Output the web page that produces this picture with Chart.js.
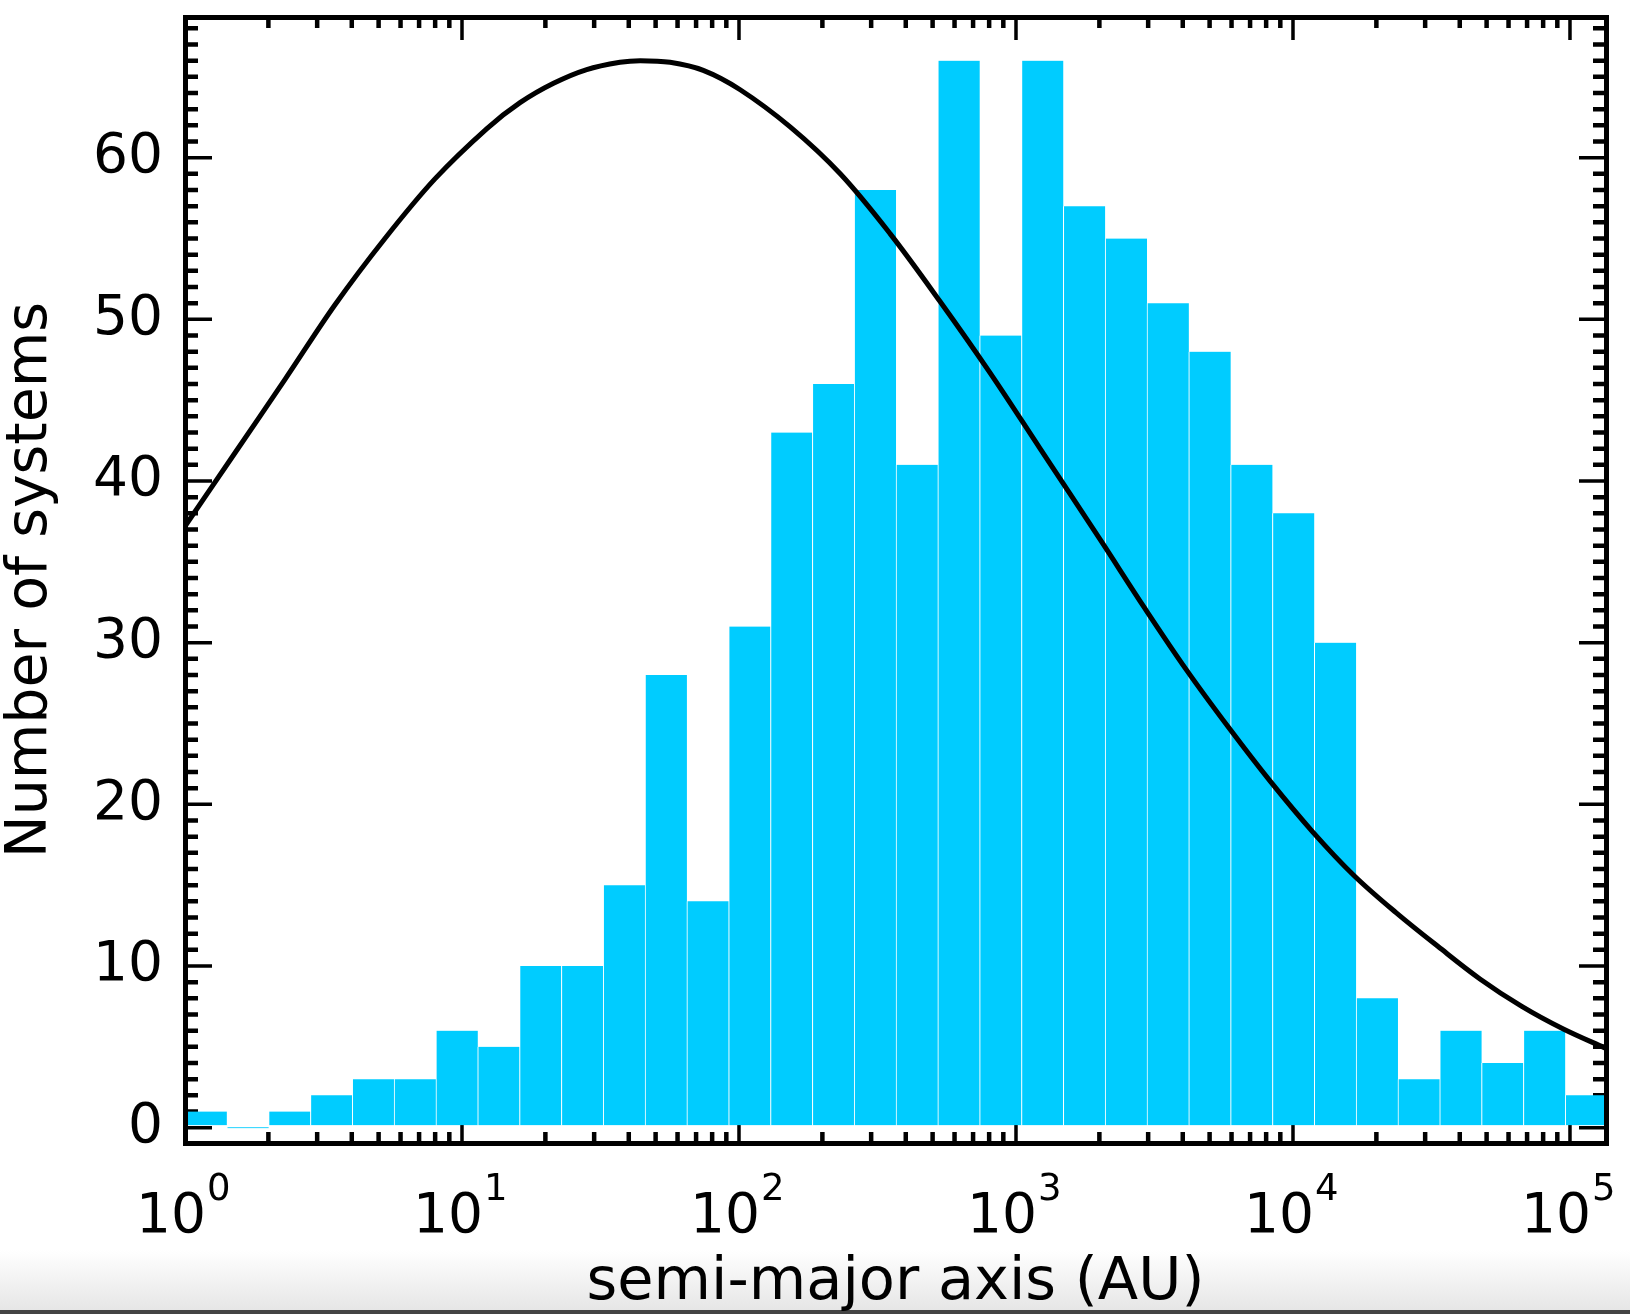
<!DOCTYPE html>
<html>
<head>
<meta charset="utf-8">
<title>Semi-major axis distribution</title>
<script src="https://cdn.jsdelivr.net/npm/chart.js@4.4.1/dist/chart.umd.min.js"></script>
<style>
  html, body { margin: 0; padding: 0; }
  body {
    width: 1630px;
    height: 1314px;
    overflow: hidden;
    background: linear-gradient(to bottom, #fff 0, #fff 1250px, #e6e6e6 1310px, #444 1310px, #444 1314px);
  }
  #wrap { position: relative; width: 1630px; height: 1314px; }
</style>
</head>
<body>
<div id="wrap"><canvas id="axisChart"></canvas></div>
<script>
// histogram: number of systems per bin, bins are 0.151 dex wide starting at 1 AU
const binWidthDex = 0.151;
const counts = [1, 0, 1, 2, 3, 3, 6, 5, 10, 10, 15, 28, 14, 31, 43, 46, 58,
  41, 66, 49, 66, 57, 55, 51, 48, 41, 38, 30, 8, 3, 6, 4, 6, 2];

// fitted curve (AU, number)
const curveA = [1, 1.51, 2.3, 3.48, 5.27, 8, 12.3, 16.2, 21.4, 28.2, 37.2, 44,
  56.4, 74.3, 101, 153, 232, 351, 532, 805, 1222, 2009, 2924, 4130, 5888, 8299,
  11776, 16596, 23550, 33420, 47315, 66988, 94624, 134900];
const curveN = [37.2, 41.7, 46.3, 50.9, 55.0, 58.7, 61.8, 63.4, 64.6, 65.45, 65.9, 66.0,
  65.9, 65.4, 64.2, 61.9, 59.0, 55.3, 51.1, 46.7, 42.0, 36.4, 32.1, 28.3, 24.7, 21.4,
  18.3, 15.6, 13.3, 11.2, 9.2, 7.5, 6.1, 4.9];

// axes
const xMin = 1;
const xMax = 134900;
const yMin = -0.95;
const yMax = 68.7;
const xMajorTicks = [1, 10, 100, 1000, 10000, 100000];
const xTickBase = '10';
const xTickExponents = ['0', '1', '2', '3', '4', '5'];
const yMajorTicks = [0, 10, 20, 30, 40, 50, 60];

const FONT = 'DejaVu Sans';

const binCenters = counts.map((c, i) => Math.pow(10, (i + 0.5) * binWidthDex));

const xMinorTicks = [];
xMajorTicks.forEach(m => {
  for (let k = 2; k <= 9; k++) {
    if (m * k < xMax) xMinorTicks.push(m * k);
  }
});
const yMinorTicks = [];
for (let v = 1; v < yMax; v++) {
  if (v % 10 !== 0) yMinorTicks.push(v);
}

// IDL style tick marks pointing into the plot, on all four sides
const inwardTicks = {
  id: 'inwardTicks',
  beforeDatasetsDraw(chart) {
    const { ctx, chartArea: area, scales: { x, y } } = chart;
    ctx.save();
    ctx.strokeStyle = '#000';
    const vTick = (px, len, w) => {
      ctx.lineWidth = w;
      ctx.beginPath();
      ctx.moveTo(px, area.bottom);
      ctx.lineTo(px, area.bottom - len);
      ctx.moveTo(px, area.top);
      ctx.lineTo(px, area.top + len);
      ctx.stroke();
    };
    const hTick = (py, len, w) => {
      ctx.lineWidth = w;
      ctx.beginPath();
      ctx.moveTo(area.left, py);
      ctx.lineTo(area.left + len, py);
      ctx.moveTo(area.right, py);
      ctx.lineTo(area.right - len, py);
      ctx.stroke();
    };
    xMinorTicks.forEach(v => vTick(x.getPixelForValue(v), 11, 4.5));
    xMajorTicks.forEach(v => vTick(x.getPixelForValue(v), 23, 3.5));
    yMinorTicks.forEach(v => hTick(y.getPixelForValue(v), 13, 4.5));
    yMajorTicks.forEach(v => hTick(y.getPixelForValue(v), 27, 3.5));
    ctx.restore();
  },
  // exponents of the 10^n labels, raised next to the "10" tick labels
  afterDraw(chart) {
    const { ctx, chartArea: area, scales: { x } } = chart;
    ctx.save();
    ctx.fillStyle = '#000';
    ctx.font = '37px "' + FONT + '"';
    ctx.textAlign = 'left';
    ctx.textBaseline = 'alphabetic';
    xMajorTicks.forEach((v, i) => {
      ctx.fillText(xTickExponents[i], x.getPixelForValue(v) + 22, area.bottom + 57);
    });
    ctx.restore();
  }
};

const frameGrid = { drawOnChartArea: false, drawTicks: false, lineWidth: 5 };
const frameBorder = { display: true, color: '#000', width: 5, z: 1 };

new Chart(document.getElementById('axisChart'), {
  type: 'bar',
  data: {
    datasets: [{
      type: 'line',
      data: curveA.map((a, i) => ({ x: a, y: curveN[i] })),
      borderColor: '#000',
      borderWidth: 5,
      pointRadius: 0,
      tension: 0.35,
      order: 0
    }, {
      type: 'bar',
      data: binCenters.map((a, i) => ({ x: a, y: counts[i] })),
      backgroundColor: '#00ccff',
      borderColor: '#fff',
      borderWidth: { left: 1, right: 0, top: 0, bottom: 0 },
      borderSkipped: false,
      barPercentage: 1,
      categoryPercentage: 1,
      minBarLength: 1,
      order: 1
    }]
  },
  options: {
    responsive: true,
    maintainAspectRatio: false,
    animation: false,
    devicePixelRatio: 1,
    layout: { padding: 0 },
    plugins: {
      legend: { display: false },
      tooltip: { enabled: false }
    },
    scales: {
      x: {
        type: 'logarithmic',
        position: 'bottom',
        min: xMin,
        max: xMax,
        offset: false,
        grid: frameGrid,
        border: frameBorder,
        afterBuildTicks: s => { s.ticks = xMajorTicks.map(v => ({ value: v })); },
        afterFit: s => { s.height = 171; s.paddingLeft = 0; s.paddingRight = 0; },
        ticks: {
          autoSkip: false,
          maxRotation: 0,
          padding: 42,
          labelOffset: -14,
          color: '#000',
          font: { family: FONT, size: 55 },
          callback: v => (xMajorTicks.indexOf(v) < 0 ? '' : xTickBase)
        },
        title: {
          display: true,
          text: 'semi-major axis (AU)',
          color: '#000',
          font: { family: FONT, size: 59 },
          padding: { top: 0, bottom: -5 }
        }
      },
      x2: {
        type: 'logarithmic',
        position: 'top',
        min: xMin,
        max: xMax,
        offset: false,
        grid: frameGrid,
        border: frameBorder,
        ticks: { display: false },
        afterFit: s => { s.height = 17; s.paddingLeft = 0; s.paddingRight = 0; }
      },
      y: {
        type: 'linear',
        position: 'left',
        min: yMin,
        max: yMax,
        grid: frameGrid,
        border: frameBorder,
        afterBuildTicks: s => { s.ticks = yMajorTicks.map(v => ({ value: v })); },
        afterFit: s => { s.width = 185; s.paddingTop = 0; s.paddingBottom = 0; },
        ticks: {
          padding: 22,
          color: '#000',
          font: { family: FONT, size: 55 },
          callback: v => String(v)
        },
        title: {
          display: true,
          text: 'Number of systems',
          color: '#000',
          font: { family: FONT, size: 57 },
          padding: { top: -3, bottom: 0 }
        }
      },
      y2: {
        type: 'linear',
        position: 'right',
        min: yMin,
        max: yMax,
        grid: frameGrid,
        border: frameBorder,
        ticks: { display: false },
        afterFit: s => { s.width = 24; s.paddingTop = 0; s.paddingBottom = 0; }
      }
    }
  },
  plugins: [inwardTicks]
});
</script>
</body>
</html>
